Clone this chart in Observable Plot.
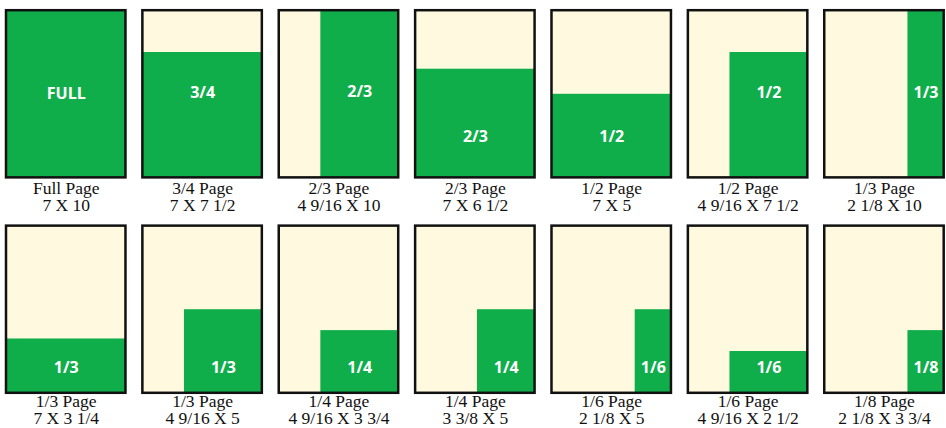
<!DOCTYPE html>
<html>
<head>
<meta charset="utf-8">
<script src="https://cdn.jsdelivr.net/npm/d3@7"></script>
<script src="https://cdn.jsdelivr.net/npm/@observablehq/plot@0.6"></script>
<style>
  html, body { margin: 0; padding: 0; background: #fff; }
  #chart { width: 946px; height: 428px; }
</style>
</head>
<body>
<div id="chart"></div>
<script>
// Ad sizes on a 7 x 10 inch page
const captions = ["Full Page", "3/4 Page", "2/3 Page", "2/3 Page", "1/2 Page", "1/2 Page", "1/3 Page",
                  "1/3 Page", "1/3 Page", "1/4 Page", "1/4 Page", "1/6 Page", "1/6 Page", "1/8 Page"];
const sizes = ["7 X 10", "7 X 7 1/2", "4 9/16 X 10", "7 X 6 1/2", "7 X 5", "4 9/16 X 7 1/2", "2 1/8 X 10",
               "7 X 3 1/4", "4 9/16 X 5", "4 9/16 X 3 3/4", "3 3/8 X 5", "2 1/8 X 5", "4 9/16 X 2 1/2", "2 1/8 X 3 3/4"];
const adLabels = ["FULL", "3/4", "2/3", "2/3", "1/2", "1/2", "1/3",
                  "1/3", "1/3", "1/4", "1/4", "1/6", "1/6", "1/8"];
const adWidths = [7, 7, 4.5625, 7, 7, 4.5625, 2.125,
                  7, 4.5625, 4.5625, 3.375, 2.125, 4.5625, 2.125];
const adHeights = [10, 7.5, 10, 6.5, 5, 7.5, 10,
                   3.25, 5, 3.75, 5, 5, 2.5, 3.75];
const labelY = [5.05, 5.1, 5.15, 2.45, 2.45, 5.1, 5.1,
                1.5, 1.5, 1.5, 1.5, 1.5, 1.5, 1.5];
const pageWidth = 7, pageHeight = 10, perRow = 7;

const panels = captions.map((c, i) => ({
  caption: c,
  size: sizes[i],
  label: adLabels[i],
  w: adWidths[i],
  h: adHeights[i],
  ly: labelY[i],
  col: i % perRow,
  row: Math.floor(i / perRow)
}));

const green = "#10AE4B", cream = "#FFFADF";

const captionStyle = {
  fx: "col", fy: "row",
  frameAnchor: "bottom", lineAnchor: "top",
  text: d => d.caption + "\n" + d.size,
  fill: "#111", fontSize: 17.5, lineHeight: 0.97,
  fontFamily: "Liberation Serif, Times New Roman, serif"
};

const chart = Plot.plot({
  width: 946,
  height: 428,
  marginLeft: 6,
  marginRight: 2.3,
  marginTop: 10.2,
  marginBottom: 35.2,
  fx: {axis: null, domain: d3.range(perRow), paddingInner: 0.124, paddingOuter: 0, round: false},
  fy: {axis: null, domain: [0, 1], paddingInner: 0.224, paddingOuter: 0, round: false},
  x: {axis: null, domain: [0, pageWidth]},
  y: {axis: null, domain: [0, pageHeight]},
  marks: [
    Plot.rect(panels, {fx: "col", fy: "row", x1: 0, x2: pageWidth, y1: 0, y2: pageHeight, fill: cream}),
    Plot.rect(panels, {fx: "col", fy: "row", x1: d => pageWidth - d.w, x2: pageWidth, y1: 0, y2: "h", fill: green}),
    Plot.text(panels, {
      fx: "col", fy: "row",
      x: d => pageWidth - d.w / 2, y: "ly", text: "label",
      fill: "white", fontWeight: "bold", fontSize: 16, fontFamily: "Open Sans",
      lineAnchor: "middle"
    }),
    Plot.rect(panels, {fx: "col", fy: "row", x1: 0, x2: pageWidth, y1: 0, y2: pageHeight,
                       fill: "none", stroke: "#111", strokeWidth: 2.5}),
    Plot.text(panels.filter(d => d.row === 0), {...captionStyle, dy: 4.5}),
    Plot.text(panels.filter(d => d.row === 1), {...captionStyle, dy: 2})
  ]
});
document.getElementById("chart").append(chart);
</script>
</body>
</html>
